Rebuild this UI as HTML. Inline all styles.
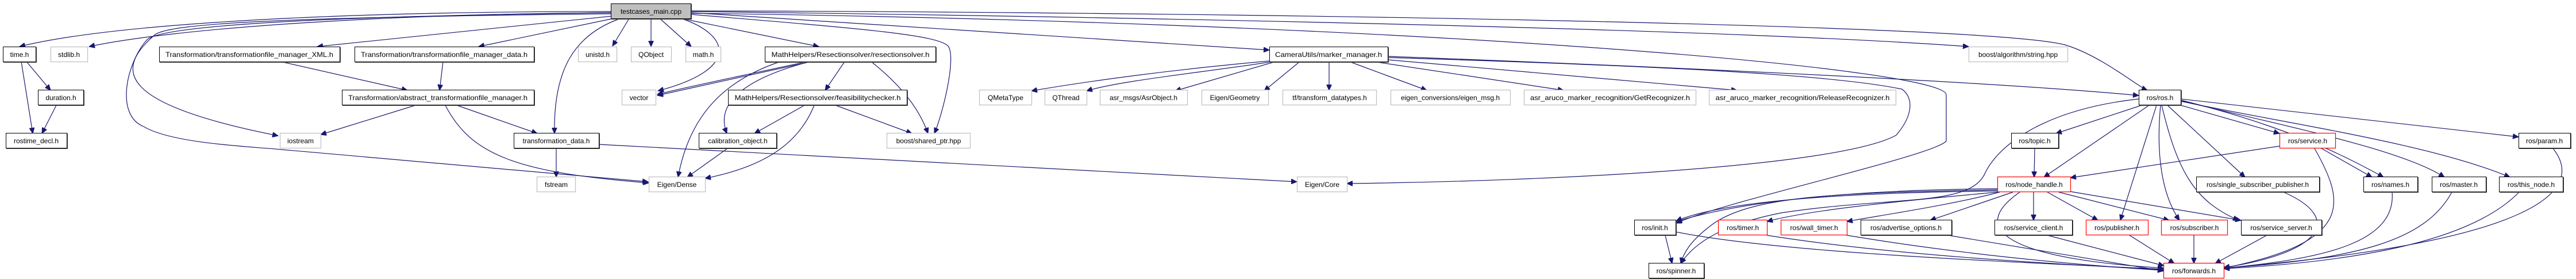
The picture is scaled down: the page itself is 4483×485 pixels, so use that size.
<!DOCTYPE html>
<html><head><meta charset="utf-8"><style>
html,body{margin:0;padding:0;background:#fff;}
svg{display:block;}
text{font-family:"Liberation Sans",Arial,sans-serif;font-size:12px;fill:#000;}
.e{fill:none;stroke:#191970;stroke-width:1.2;marker-end:url(#a);}
.b{fill:#fff;stroke:#000;stroke-width:1;}
.s{fill:none;stroke:#555;stroke-width:1;}
.g{fill:#fff;stroke:#bfbfbf;stroke-width:1.2;}
.r{fill:#fff;stroke:#ff0000;stroke-width:1.2;}
</style></head><body>
<svg width="4483" height="485" viewBox="0 0 4483 485" xmlns="http://www.w3.org/2000/svg">
<defs><marker id="a" markerUnits="userSpaceOnUse" markerWidth="11" markerHeight="9" refX="10" refY="4.5" orient="auto"><path d="M0,0 L10,4.5 L0,9 z" fill="#191970" stroke="#191970"/></marker></defs>

<!-- edges -->
<path class="e" d="M1063,20 C600,20 200,40 34,81"/>
<path class="e" d="M1063,22 C650,25 300,50 155,81"/>
<path class="e" d="M1065,28 L552,81"/>
<path class="e" d="M1068,32 L833,81"/>
<path class="e" d="M1095,32 L1066,80"/>
<path class="e" d="M1133,32 L1133,81"/>
<path class="e" d="M1148,32 L1203,81"/>
<path class="e" d="M1185,32 L1425,81"/>
<path class="e" d="M1185,32 C1270,60 1290,120 1145,158"/>
<path class="e" d="M1202,22 L2209,87"/>
<path class="e" d="M1202,25 C1500,50 1630,60 1650,80 C1665,100 1640,200 1626,232"/>
<path class="e" d="M1202,20 C2000,30 3000,50 3426,81"/>
<path class="e" d="M1202,19 C2000,20 3500,40 3600,80 C3660,100 3720,150 3737,157"/>
<path class="e" d="M1202,23 C2500,40 3390,120 3387,165 L3387,245 C3370,270 3000,350 2917,388"/>
<path class="e" d="M1063,24 C500,30 300,40 270,60 C200,120 200,180 484,236"/>
<path class="e" d="M1080,32 C1000,60 963,120 965,232"/>
<path class="e" d="M1063,22 C450,30 270,50 255,70 C220,110 200,200 250,220 C300,250 440,255 490,260 L1128,316"/>

<path class="e" d="M488,107 L709,157"/>
<path class="e" d="M771,107 L765,157"/>
<path class="e" d="M723,183 L558,234"/>
<path class="e" d="M795,183 L935,232"/>
<path class="e" d="M775,183 C820,270 900,300 1129,318"/>
<path class="e" d="M968,258 L968,308"/>
<path class="e" d="M1042,251 L2257,316"/>
<path class="e" d="M46,107 L88,157"/>
<path class="e" d="M37,107 L57,232"/>
<path class="e" d="M98,183 L73,232"/>

<path class="e" d="M1412,107 L1144,166"/>
<path class="e" d="M1405,107 C1300,130 1200,150 1144,164"/>
<path class="e" d="M1470,107 L1436,157"/>
<path class="e" d="M1516,107 C1570,150 1600,190 1615,232"/>
<path class="e" d="M1410,107 C1320,130 1240,170 1265,232"/>
<path class="e" d="M1358,107 C1260,140 1200,200 1180,308"/>
<path class="e" d="M1400,183 L1313,232"/>
<path class="e" d="M1454,183 L1587,232"/>
<path class="e" d="M1417,183 C1390,250 1330,290 1227,310"/>
<path class="e" d="M1266,258 L1196,308"/>

<path class="e" d="M2209,106 C2050,120 1900,140 1795,158"/>
<path class="e" d="M2209,108 C2100,125 1950,140 1891,158"/>
<path class="e" d="M2220,107 L2045,158"/>
<path class="e" d="M2262,107 L2200,158"/>
<path class="e" d="M2313,107 L2313,157"/>
<path class="e" d="M2348,107 L2483,157"/>
<path class="e" d="M2390,107 L2721,157"/>
<path class="e" d="M2416,104 L3023,157"/>
<path class="e" d="M2416,98 C3000,120 3500,145 3722,166"/>
<path class="e" d="M2416,100 C2900,115 3190,130 3310,155 C3330,170 3330,200 3300,235 C3200,290 2700,315 2344,319"/>

<path class="e" d="M3727,183 L3578,232"/>
<path class="e" d="M3740,183 L3557,308"/>
<path class="e" d="M3753,183 L3690,383"/>
<path class="e" d="M3760,183 C3750,290 3770,350 3793,383"/>
<path class="e" d="M3762,183 C3790,300 3820,350 3896,383"/>
<path class="e" d="M3772,183 L3907,308"/>
<path class="e" d="M3795,183 L3967,232"/>
<path class="e" d="M3795,174 C3980,220 4080,270 4148,308"/>
<path class="e" d="M3795,175 C3980,220 4180,260 4254,308"/>
<path class="e" d="M3795,176 C3980,215 4230,250 4368,308"/>
<path class="e" d="M3795,172 L4383,238"/>
<path class="e" d="M3722,172 C3560,190 3480,250 3455,300 C3430,360 3300,340 3100,370 C3000,390 2950,420 2925,458"/>

<path class="e" d="M3541,258 L3540,308"/>
<path class="e" d="M3967,254 L3603,309"/>
<path class="e" d="M4040,258 L4128,308"/>
<path class="e" d="M4028,258 C4080,350 4100,420 3870,466"/>
<path class="e" d="M4443,258 C4500,330 4420,420 3870,466"/>
<path class="e" d="M3974,334 C4080,380 4040,440 3870,465"/>
<path class="e" d="M4163,334 C4170,420 4050,450 3870,466"/>
<path class="e" d="M4267,334 C4220,420 4100,450 3870,466"/>
<path class="e" d="M4384,334 C4300,420 4100,455 3870,467"/>

<path class="e" d="M3476,332 C3200,335 3000,350 2917,384"/>
<path class="e" d="M3476,328 C3250,330 3050,345 2917,385"/>
<path class="e" d="M3476,334 C3300,350 3150,365 3075,385"/>
<path class="e" d="M3480,334 C3400,355 3300,370 3214,385"/>
<path class="e" d="M3503,334 L3359,383"/>
<path class="e" d="M3539,334 L3539,383"/>
<path class="e" d="M3563,334 L3651,383"/>
<path class="e" d="M3583,334 L3775,383"/>
<path class="e" d="M3603,333 L3900,383"/>
<path class="e" d="M3515,334 C3420,400 3500,450 3765,466"/>
<path class="e" d="M3476,330 C3200,335 3050,340 2980,390 C2940,420 2930,440 2925,458"/>

<path class="e" d="M2916,403 C3100,440 3500,455 3765,468"/>
<path class="e" d="M2898,409 L2910,458"/>
<path class="e" d="M3075,409 C3300,445 3600,460 3765,469"/>
<path class="e" d="M3214,409 C3400,440 3600,460 3765,470"/>
<path class="e" d="M3390,409 L3765,471"/>
<path class="e" d="M3563,409 L3766,462"/>
<path class="e" d="M3706,409 L3784,458"/>
<path class="e" d="M3818,409 L3818,458"/>
<path class="e" d="M3945,409 L3855,458"/>

<!-- nodes -->
<rect x="1064.5" y="7.5" width="139" height="26" class="s"/>
<rect x="1063.5" y="6.5" width="139" height="26" fill="#bfbfbf" stroke="#000"/>
<text x="1133" y="24" text-anchor="middle">testcases_main.cpp</text>

<g id="blk">
<rect x="6.5" y="82.5" width="57" height="26" class="s"/><rect x="5.5" y="81.5" width="57" height="26" class="b"/><text x="34" y="99" text-anchor="middle">time.h</text>
<rect x="278.5" y="82.5" width="314" height="26" class="s"/><rect x="277.5" y="81.5" width="314" height="26" class="b"/><text x="434" y="99" text-anchor="middle" textLength="292" lengthAdjust="spacingAndGlyphs">Transformation/transformationfile_manager_XML.h</text>
<rect x="618.5" y="82.5" width="312" height="26" class="s"/><rect x="617.5" y="81.5" width="312" height="26" class="b"/><text x="773" y="99" text-anchor="middle" textLength="290" lengthAdjust="spacingAndGlyphs">Transformation/transformationfile_manager_data.h</text>
<rect x="1332.5" y="82.5" width="297" height="26" class="s"/><rect x="1331.5" y="81.5" width="297" height="26" class="b"/><text x="1480" y="99" text-anchor="middle" textLength="275" lengthAdjust="spacingAndGlyphs">MathHelpers/Resectionsolver/resectionsolver.h</text>
<rect x="2210.5" y="82.5" width="206" height="26" class="s"/><rect x="2209.5" y="81.5" width="206" height="26" class="b"/><text x="2312" y="99" text-anchor="middle" textLength="186" lengthAdjust="spacingAndGlyphs">CameraUtils/marker_manager.h</text>

<rect x="67.5" y="157.5" width="79" height="26" class="s"/><rect x="66.5" y="156.5" width="79" height="26" class="b"/><text x="106" y="174" text-anchor="middle">duration.h</text>
<rect x="596.5" y="157.5" width="334" height="26" class="s"/><rect x="595.5" y="156.5" width="334" height="26" class="b"/><text x="762" y="174" text-anchor="middle" textLength="312" lengthAdjust="spacingAndGlyphs">Transformation/abstract_transformationfile_manager.h</text>
<rect x="1268.5" y="157.5" width="311" height="26" class="s"/><rect x="1267.5" y="156.5" width="311" height="26" class="b"/><text x="1423" y="174" text-anchor="middle" textLength="289" lengthAdjust="spacingAndGlyphs">MathHelpers/Resectionsolver/feasibilitychecker.h</text>
<rect x="3723.5" y="157.5" width="73" height="26" class="s"/><rect x="3722.5" y="156.5" width="73" height="26" class="b"/><text x="3759" y="174" text-anchor="middle">ros/ros.h</text>

<rect x="11.5" y="232.5" width="106" height="26" class="s"/><rect x="10.5" y="231.5" width="106" height="26" class="b"/><text x="63" y="249" text-anchor="middle">rostime_decl.h</text>
<rect x="895.5" y="232.5" width="148" height="26" class="s"/><rect x="894.5" y="231.5" width="148" height="26" class="b"/><text x="968" y="249" text-anchor="middle">transformation_data.h</text>
<rect x="1217.5" y="232.5" width="135" height="26" class="s"/><rect x="1216.5" y="231.5" width="135" height="26" class="b"/><text x="1284" y="249" text-anchor="middle">calibration_object.h</text>
<rect x="3501.5" y="232.5" width="82" height="26" class="s"/><rect x="3500.5" y="231.5" width="82" height="26" class="b"/><text x="3541" y="249" text-anchor="middle">ros/topic.h</text>
<rect x="4384.5" y="232.5" width="90" height="26" class="s"/><rect x="4383.5" y="231.5" width="90" height="26" class="b"/><text x="4428" y="249" text-anchor="middle">ros/param.h</text>

<rect x="3823.5" y="308.5" width="214" height="26" class="s"/><rect x="3822.5" y="307.5" width="214" height="26" class="b"/><text x="3929" y="325" text-anchor="middle">ros/single_subscriber_publisher.h</text>
<rect x="4114.5" y="308.5" width="94" height="26" class="s"/><rect x="4113.5" y="307.5" width="94" height="26" class="b"/><text x="4160" y="325" text-anchor="middle">ros/names.h</text>
<rect x="4233.5" y="308.5" width="94" height="26" class="s"/><rect x="4232.5" y="307.5" width="94" height="26" class="b"/><text x="4279" y="325" text-anchor="middle">ros/master.h</text>
<rect x="4350.5" y="308.5" width="111" height="26" class="s"/><rect x="4349.5" y="307.5" width="111" height="26" class="b"/><text x="4405" y="325" text-anchor="middle">ros/this_node.h</text>

<rect x="2845.5" y="383.5" width="72" height="26" class="s"/><rect x="2844.5" y="382.5" width="72" height="26" class="b"/><text x="2880" y="400" text-anchor="middle">ros/init.h</text>
<rect x="3239.5" y="383.5" width="158" height="26" class="s"/><rect x="3238.5" y="382.5" width="158" height="26" class="b"/><text x="3317" y="400" text-anchor="middle">ros/advertise_options.h</text>
<rect x="3472.5" y="383.5" width="135" height="26" class="s"/><rect x="3471.5" y="382.5" width="135" height="26" class="b"/><text x="3539" y="400" text-anchor="middle">ros/service_client.h</text>
<rect x="3901.5" y="383.5" width="140" height="26" class="s"/><rect x="3900.5" y="382.5" width="140" height="26" class="b"/><text x="3970" y="400" text-anchor="middle">ros/service_server.h</text>

<rect x="2870.5" y="458.5" width="96" height="26" class="s"/><rect x="2869.5" y="457.5" width="96" height="26" class="b"/><text x="2917" y="475" text-anchor="middle">ros/spinner.h</text>
</g>

<!-- gray -->
<rect x="88.5" y="81.5" width="64" height="26" class="g"/><text x="120" y="99" text-anchor="middle">stdlib.h</text>
<rect x="1006.5" y="81.5" width="67" height="26" class="g"/><text x="1040" y="99" text-anchor="middle">unistd.h</text>
<rect x="1098.5" y="81.5" width="70" height="26" class="g"/><text x="1133" y="99" text-anchor="middle">QObject</text>
<rect x="1193.5" y="81.5" width="61" height="26" class="g"/><text x="1224" y="99" text-anchor="middle">math.h</text>
<rect x="3426.5" y="81.5" width="172" height="26" class="g"/><text x="3512" y="99" text-anchor="middle">boost/algorithm/string.hpp</text>

<rect x="1082.5" y="156.5" width="59" height="26" class="g"/><text x="1112" y="174" text-anchor="middle">vector</text>
<rect x="1704.5" y="156.5" width="91" height="26" class="g"/><text x="1750" y="174" text-anchor="middle">QMetaType</text>
<rect x="1818.5" y="156.5" width="73" height="26" class="g"/><text x="1855" y="174" text-anchor="middle">QThread</text>
<rect x="1914.5" y="156.5" width="152" height="26" class="g"/><text x="1990" y="174" text-anchor="middle">asr_msgs/AsrObject.h</text>
<rect x="2091.5" y="156.5" width="116" height="26" class="g"/><text x="2149" y="174" text-anchor="middle">Eigen/Geometry</text>
<rect x="2232.5" y="156.5" width="163" height="26" class="g"/><text x="2314" y="174" text-anchor="middle">tf/transform_datatypes.h</text>
<rect x="2420.5" y="156.5" width="208" height="26" class="g"/><text x="2524" y="174" text-anchor="middle">eigen_conversions/eigen_msg.h</text>
<rect x="2652.5" y="156.5" width="299" height="26" class="g"/><text x="2802" y="174" text-anchor="middle" textLength="278" lengthAdjust="spacingAndGlyphs">asr_aruco_marker_recognition/GetRecognizer.h</text>
<rect x="2974.5" y="156.5" width="325" height="26" class="g"/><text x="3137" y="174" text-anchor="middle" textLength="303" lengthAdjust="spacingAndGlyphs">asr_aruco_marker_recognition/ReleaseRecognizer.h</text>

<rect x="487.5" y="231.5" width="71" height="26" class="g"/><text x="523" y="249" text-anchor="middle">iostream</text>
<rect x="1543.5" y="231.5" width="145" height="26" class="g"/><text x="1616" y="249" text-anchor="middle">boost/shared_ptr.hpp</text>

<rect x="934.5" y="307.5" width="67" height="26" class="g"/><text x="968" y="325" text-anchor="middle">fstream</text>
<rect x="1129.5" y="307.5" width="98" height="26" class="g"/><text x="1178" y="325" text-anchor="middle">Eigen/Dense</text>
<rect x="2257.5" y="307.5" width="87" height="26" class="g"/><text x="2301" y="325" text-anchor="middle">Eigen/Core</text>

<!-- red -->
<rect x="3967.5" y="231.5" width="97" height="26" class="r"/><text x="4016" y="249" text-anchor="middle">ros/service.h</text>
<rect x="3476.5" y="307.5" width="127" height="26" class="r"/><text x="3540" y="325" text-anchor="middle">ros/node_handle.h</text>
<rect x="2990.5" y="382.5" width="85" height="26" class="r"/><text x="3033" y="400" text-anchor="middle">ros/timer.h</text>
<rect x="3099.5" y="382.5" width="115" height="26" class="r"/><text x="3157" y="400" text-anchor="middle">ros/wall_timer.h</text>
<rect x="3630.5" y="382.5" width="108" height="26" class="r"/><text x="3684" y="400" text-anchor="middle">ros/publisher.h</text>
<rect x="3761.5" y="382.5" width="115" height="26" class="r"/><text x="3819" y="400" text-anchor="middle">ros/subscriber.h</text>
<rect x="3765.5" y="457.5" width="105" height="26" class="r"/><text x="3818" y="475" text-anchor="middle">ros/forwards.h</text>
</svg>
</body></html>
